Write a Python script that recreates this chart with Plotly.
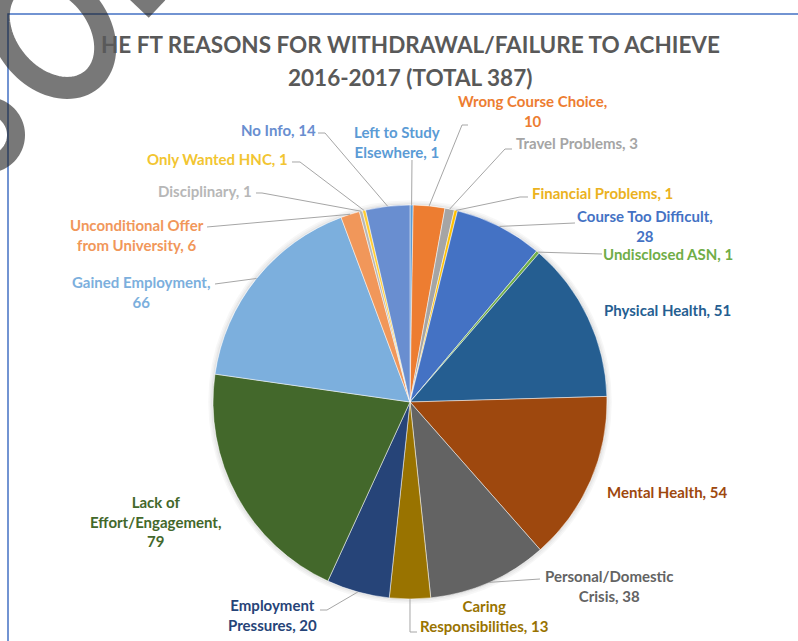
import math
import plotly.graph_objects as go

# ---- data -------------------------------------------------------------
categories = [
    "Left to Study Elsewhere", "Wrong Course Choice", "Travel Problems",
    "Financial Problems", "Course Too Difficult", "Undisclosed ASN",
    "Physical Health", "Mental Health", "Personal/Domestic Crisis",
    "Caring Responsibilities", "Employment Pressures",
    "Lack of Effort/Engagement", "Gained Employment",
    "Unconditional Offer from University", "Disciplinary",
    "Only Wanted HNC", "No Info",
]
values = [1, 10, 3, 1, 28, 1, 51, 54, 38, 13, 20, 79, 66, 6, 1, 1, 14]

# label text as drawn (line breaks only)
label_names = [
    "Left to Study<br>Elsewhere", "Wrong Course Choice,<br>", "Travel Problems",
    "Financial Problems", "Course Too Difficult,<br>", "Undisclosed ASN",
    "Physical Health", "Mental Health", "Personal/Domestic<br>Crisis",
    "Caring<br>Responsibilities", "Employment<br>Pressures",
    "Lack of<br>Effort/Engagement,<br>", "Gained Employment,<br>",
    "Unconditional Offer<br>from University", "Disciplinary",
    "Only Wanted HNC", "No Info",
]

title_lines = ["HE FT REASONS FOR WITHDRAWAL/FAILURE TO ACHIEVE",
               "2016-2017 (TOTAL 387)"]

# ---- styling ----------------------------------------------------------
colors = ["#5B9BD5", "#ED7D31", "#A5A5A5", "#FFC000", "#4472C4", "#70AD47",
          "#255E91", "#9E480E", "#636363", "#997300", "#264478", "#43682B",
          "#7CAFDD", "#F1975A", "#B7B7B7", "#FFCD33", "#698ED0"]
text_colors = list(colors)
text_colors[3] = "#EBB21E"
text_colors[15] = "#F2C531"

W, H = 798, 641
CX, CY, R = 410, 402, 197          # pie centre / radius in pixels
FONT = "Lato"

# label centre (px) and leader-line route (elbow, then optional tail)
label_pos = [
    (397, 142), (532, 111), (577, 143), (602, 193), (645, 226), (668, 254),
    (667, 310), (667, 492), (609, 586), (484, 616), (272, 615), (155, 521),
    (141, 292), (137, 235), (205, 191), (217, 159), (278, 130),
]
leaders = {
    0: [(412, 160)],
    1: [(462, 125), (468, 125)],
    2: [(505, 149), (512, 149)],
    3: [(520, 197), (528, 197)],
    4: [(575, 223)],
    5: [(602, 254)],
    8: [(540, 579)],
    9: [(410, 632), (417, 632)],
    10: [(327, 610), (320, 610)],
    12: [(215, 284)],
    13: [(207, 227)],
    14: [(262, 193), (256, 193)],
    15: [(300, 162), (292, 162)],
    16: [(325, 133), (318, 133)],
}


def px(x):
    return x / W


def py(y):
    return 1 - y / H


fig = go.Figure()

fig.add_trace(go.Pie(
    labels=categories,
    values=values,
    sort=False,
    direction="clockwise",
    rotation=0,
    textinfo="none",
    hoverinfo="label+value",
    showlegend=False,
    marker=dict(colors=colors, line=dict(color="rgba(255,255,255,0.7)", width=0.7)),
    domain=dict(x=[px(CX - R), px(CX + R)], y=[py(CY + R), py(CY - R)]),
))

shapes = []

# soft shadow ring around the pie
for i, a in enumerate([0.10, 0.06, 0.03]):
    r = R + 1 + i * 1.5
    shapes.append(dict(type="circle", xref="paper", yref="paper",
                       x0=px(CX - r), x1=px(CX + r), y0=py(CY + r), y1=py(CY - r),
                       line=dict(color=f"rgba(0,0,0,{a})", width=1.6), layer="below"))

# leader lines: slice mid-angle on the rim -> elbow -> tail
total = sum(values)
cum = 0
mid_angles = []
for v in values:
    mid_angles.append((cum + v / 2) / total * 2 * math.pi)
    cum += v

for idx, route in leaders.items():
    th = mid_angles[idx]
    sx, sy = CX + R * math.sin(th), CY - R * math.cos(th)
    pts = [(sx, sy)] + route
    path = "M " + " L ".join(f"{px(x):.5f},{py(y):.5f}" for x, y in pts)
    shapes.append(dict(type="path", xref="paper", yref="paper", path=path,
                       line=dict(color="#A6A6A6", width=1)))

# chart frame
shapes.append(dict(type="rect", xref="paper", yref="paper",
                   x0=px(8), y0=-0.02, x1=1.02, y1=py(14),
                   line=dict(color="#4472C4", width=1.5)))


# translucent grey strokes over the top-left corner
def ellipse_path(cx, cy, a, b, rot_deg, n=90):
    rot = math.radians(rot_deg)
    pts = []
    for k in range(n + 1):
        t = 2 * math.pi * k / n
        ex, ey = a * math.cos(t), b * math.sin(t)
        x = cx + ex * math.cos(rot) - ey * math.sin(rot)
        y = cy + ex * math.sin(rot) + ey * math.cos(rot)
        pts.append((x, y))
    return "M " + " L ".join(f"{px(x):.5f},{py(y):.5f}" for x, y in pts) + " Z"


blot = "rgba(30,30,30,0.6)"
shapes.append(dict(type="path", xref="paper", yref="paper",
                   path=ellipse_path(52, 32, 62, 46, 50),
                   line=dict(color=blot, width=22), layer="above"))
shapes.append(dict(type="path", xref="paper", yref="paper",
                   path=ellipse_path(-13, 135, 29, 29, 0),
                   line=dict(color=blot, width=18), layer="above"))
shapes.append(dict(type="path", xref="paper", yref="paper",
                   path=f"M {px(118):.5f},{py(-28):.5f} L {px(157):.5f},{py(9):.5f}",
                   line=dict(color=blot, width=24), layer="above"))

annotations = []
# title
for line, y in zip(title_lines, [44, 78]):
    annotations.append(dict(text=f"<b>{line}</b>", x=px(410), y=py(y),
                            xref="paper", yref="paper", showarrow=False,
                            xanchor="center", yanchor="middle",
                            font=dict(family=FONT, size=22.5, color="#595959")))

# data labels
for i, (name, v) in enumerate(zip(label_names, values)):
    if name.endswith("<br>"):
        txt = f"{name}{v}"
    else:
        txt = f"{name}, {v}"
    x, y = label_pos[i]
    annotations.append(dict(text=f"<b>{txt}</b>", x=px(x), y=py(y),
                            xref="paper", yref="paper", showarrow=False,
                            xanchor="center", yanchor="middle", align="center",
                            borderpad=0,
                            font=dict(family=FONT, size=15, color=text_colors[i])))

fig.update_layout(
    width=W, height=H,
    margin=dict(l=0, r=0, t=0, b=0),
    paper_bgcolor="white",
    plot_bgcolor="white",
    shapes=shapes,
    annotations=annotations,
)

fig.write_html("out.html")
